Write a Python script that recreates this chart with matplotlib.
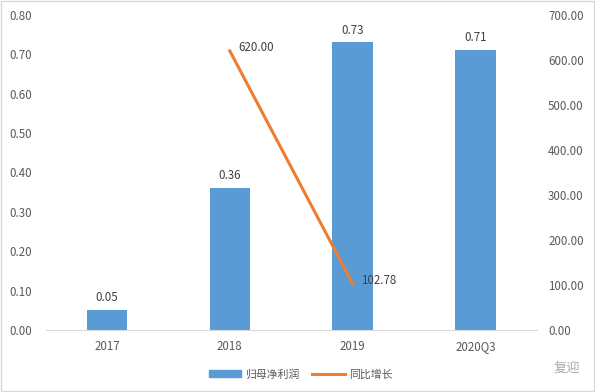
import matplotlib
matplotlib.use("Agg")
import matplotlib.pyplot as plt
from matplotlib.lines import Line2D
from matplotlib.patches import Patch, Rectangle

plt.rcParams["font.family"] = ["Noto Sans CJK SC", "DejaVu Sans"]

categories = ["2017", "2018", "2019", "2020Q3"]
profit = [0.05, 0.36, 0.73, 0.71]
growth_cats = ["2018", "2019"]
growth = [620.00, 102.78]
left_ticks = [0.0, 0.1, 0.2, 0.3, 0.4, 0.5, 0.6, 0.7, 0.8]
right_ticks = [0, 100, 200, 300, 400, 500, 600, 700]

BAR = "#5B9BD5"
LINE = "#ED7D31"
TXT = "#595959"
FS = 8.3

fig = plt.figure(figsize=(5.95, 3.92), dpi=100)
ax = fig.add_axes([0.0765, 0.158, 0.826, 0.804])
x = list(range(len(categories)))
ax.bar(x, profit, width=0.33, color=BAR, zorder=2)
for xi, v in zip(x, profit):
    ax.text(xi, v + 0.015, f"{v:.2f}", ha="center", va="bottom", fontsize=FS, color="#404040")

ax.set_xlim(-0.5, len(categories) - 0.5)
ax.set_ylim(0, 0.8)
ax.set_yticks(left_ticks)
ax.set_yticklabels([f"{t:.2f}" for t in left_ticks])
ax.set_xticks(x)
ax.set_xticklabels(categories)
for s in ["top", "right", "left"]:
    ax.spines[s].set_visible(False)
ax.spines["bottom"].set_color("#D9D9D9")
ax.tick_params(axis="both", length=0, labelsize=FS, labelcolor=TXT)
ax.tick_params(axis="y", pad=10)
ax.tick_params(axis="x", pad=7)

ax2 = ax.twinx()
gx = [categories.index(c) for c in growth_cats]
ax2.plot(gx, growth, color=LINE, linewidth=2.2, zorder=3)
for xi, v in zip(gx, growth):
    ax2.text(xi + 0.07, v + 8, f"{v:.2f}", ha="left", va="center",
             fontsize=FS, color="#404040")
ax2.set_ylim(0, 700)
ax2.set_yticks(right_ticks)
ax2.set_yticklabels([f"{t:.2f}" for t in right_ticks])
for s in ax2.spines.values():
    s.set_visible(False)
ax2.tick_params(axis="y", length=0, labelsize=FS, labelcolor=TXT, pad=8)

handles = [Patch(color=BAR), Line2D([0], [0], color=LINE, linewidth=2.2)]
fig.legend(handles, ["归母净利润", "同比增长"], loc="center", bbox_to_anchor=(0.505, 0.046),
           ncol=2, frameon=False, fontsize=7.8, labelcolor=TXT, handlelength=3.0,
           handleheight=0.5, columnspacing=1.2, handletextpad=0.35)

fig.text(0.975, 0.062, "复迎", ha="right", va="center", fontsize=9.5, color="#A8A8A8")
fig.patches.append(Rectangle((0.002, 0.002), 0.996, 0.996, transform=fig.transFigure,
                             fill=False, edgecolor="#D9D9D9", linewidth=1))

fig.savefig("out.png", dpi=100)
